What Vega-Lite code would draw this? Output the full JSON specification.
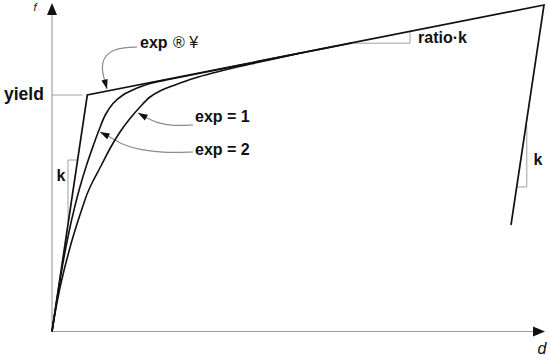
{
  "$schema": "https://vega.github.io/schema/vega-lite/v6.json",
  "width": 550,
  "height": 360,
  "autosize": {"type": "none"},
  "padding": 0,
  "background": "white",
  "config": {"view": {"stroke": null}, "text": {"font": "Liberation Sans"}},
  "datasets": {
    "axes": [
      {"d": 0, "f": 0, "d2": 0, "f2": 317},
      {"d": 0, "f": 0, "d2": 482, "f2": 0}
    ],
    "guides": [
      {"d": 0, "f": 236.5, "d2": 30, "f2": 236.5},
      {"d": 16, "f": 171.5, "d2": 25.4, "f2": 171.5},
      {"d": 16, "f": 171.5, "d2": 16, "f2": 110},
      {"d": 298, "f": 288.3, "d2": 358, "f2": 288.3},
      {"d": 358, "f": 288.3, "d2": 358, "f2": 300.1},
      {"d": 474.8, "f": 206, "d2": 474.8, "f2": 144.5},
      {"d": 464.7, "f": 144.5, "d2": 474.8, "f2": 144.5}
    ],
    "callouts": [
      {"c": "inf", "i": 0, "d": 85, "f": 284.5},
      {"c": "inf", "i": 1, "d": 72, "f": 284},
      {"c": "inf", "i": 2, "d": 61, "f": 281.5},
      {"c": "inf", "i": 3, "d": 53.5, "f": 276},
      {"c": "inf", "i": 4, "d": 50, "f": 268},
      {"c": "inf", "i": 5, "d": 50.5, "f": 259},
      {"c": "inf", "i": 6, "d": 53, "f": 249.5},
      {"c": "inf", "i": 7, "d": 55, "f": 242.5},
      {"c": "one", "i": 0, "d": 141, "f": 206.5},
      {"c": "one", "i": 1, "d": 121, "f": 205.5},
      {"c": "one", "i": 2, "d": 105, "f": 208.5},
      {"c": "one", "i": 3, "d": 95, "f": 213.5},
      {"c": "one", "i": 4, "d": 86, "f": 218.5},
      {"c": "two", "i": 0, "d": 141, "f": 179.5},
      {"c": "two", "i": 1, "d": 115, "f": 178.5},
      {"c": "two", "i": 2, "d": 88, "f": 181.5},
      {"c": "two", "i": 3, "d": 71, "f": 186.5},
      {"c": "two", "i": 4, "d": 58, "f": 194.5},
      {"c": "two", "i": 5, "d": 48, "f": 199.5}
    ],
    "curves": [
      {"curve": "exp=2", "i": 0, "d": 0, "f": 0},
      {"curve": "exp=2", "i": 1, "d": 6.4, "f": 41.5},
      {"curve": "exp=2", "i": 2, "d": 12.4, "f": 76.5},
      {"curve": "exp=2", "i": 3, "d": 19.6, "f": 111.5},
      {"curve": "exp=2", "i": 4, "d": 27.1, "f": 141.5},
      {"curve": "exp=2", "i": 5, "d": 34.6, "f": 166.5},
      {"curve": "exp=2", "i": 6, "d": 41.5, "f": 186.5},
      {"curve": "exp=2", "i": 7, "d": 47, "f": 201.5},
      {"curve": "exp=2", "i": 8, "d": 53.3, "f": 216.5},
      {"curve": "exp=2", "i": 9, "d": 61, "f": 228},
      {"curve": "exp=2", "i": 10, "d": 71, "f": 236.5},
      {"curve": "exp=2", "i": 11, "d": 84.5, "f": 243.2},
      {"curve": "exp=2", "i": 12, "d": 98, "f": 248},
      {"curve": "exp=2", "i": 13, "d": 118, "f": 252.2},
      {"curve": "exp=2", "i": 14, "d": 148, "f": 258.2},
      {"curve": "exp=2", "i": 15, "d": 198, "f": 268.3},
      {"curve": "exp=2", "i": 16, "d": 250, "f": 278.8},
      {"curve": "exp=1", "i": 0, "d": 0, "f": 0},
      {"curve": "exp=1", "i": 1, "d": 3.6, "f": 21.5},
      {"curve": "exp=1", "i": 2, "d": 7.5, "f": 41.5},
      {"curve": "exp=1", "i": 3, "d": 12.1, "f": 61.5},
      {"curve": "exp=1", "i": 4, "d": 16, "f": 76.5},
      {"curve": "exp=1", "i": 5, "d": 20.1, "f": 91.5},
      {"curve": "exp=1", "i": 6, "d": 25.3, "f": 108.5},
      {"curve": "exp=1", "i": 7, "d": 30.6, "f": 124.5},
      {"curve": "exp=1", "i": 8, "d": 35.5, "f": 138.5},
      {"curve": "exp=1", "i": 9, "d": 41, "f": 150.5},
      {"curve": "exp=1", "i": 10, "d": 49.5, "f": 166.5},
      {"curve": "exp=1", "i": 11, "d": 58, "f": 183},
      {"curve": "exp=1", "i": 12, "d": 68, "f": 199.5},
      {"curve": "exp=1", "i": 13, "d": 78, "f": 213},
      {"curve": "exp=1", "i": 14, "d": 88, "f": 224.5},
      {"curve": "exp=1", "i": 15, "d": 98, "f": 234.5},
      {"curve": "exp=1", "i": 16, "d": 108, "f": 240.5},
      {"curve": "exp=1", "i": 17, "d": 123, "f": 246.5},
      {"curve": "exp=1", "i": 18, "d": 143, "f": 253.5},
      {"curve": "exp=1", "i": 19, "d": 163, "f": 259},
      {"curve": "exp=1", "i": 20, "d": 183, "f": 264},
      {"curve": "exp=1", "i": 21, "d": 208, "f": 269.5},
      {"curve": "exp=1", "i": 22, "d": 248, "f": 278.2},
      {"curve": "exp=1", "i": 23, "d": 300, "f": 288.5}
    ],
    "bilinear": [
      {"i": 0, "d": 0, "f": 0},
      {"i": 1, "d": 35.3, "f": 236.5},
      {"i": 2, "d": 492, "f": 326.5},
      {"i": 3, "d": 459, "f": 106.5}
    ],
    "axisHeads": [
      {"d": 0, "f": 328.5, "ang": 0},
      {"d": 493, "f": 0, "ang": 90}
    ],
    "calloutHeads": [
      {"d": 55, "f": 242.5, "ang": 165},
      {"d": 86, "f": 218.5, "ang": 299},
      {"d": 48, "f": 199.5, "ang": 297}
    ],
    "boldLeft": [
      {"label": "yield", "d": -48, "f": 236.5, "fs": 17.5},
      {"label": "exp", "d": 88, "f": 288.5, "fs": 16},
      {"label": "exp = 1", "d": 143, "f": 214.5, "fs": 16},
      {"label": "exp = 2", "d": 143, "f": 181.5, "fs": 16},
      {"label": "ratio·k", "d": 366, "f": 293.5, "fs": 16}
    ],
    "boldCenter": [
      {"label": "k", "d": 9, "f": 155.5, "fs": 16},
      {"label": "k", "d": 486, "f": 171.5, "fs": 16}
    ],
    "regularLeft": [
      {"label": "® ¥", "d": 121, "f": 288.5, "fs": 16}
    ],
    "italic": [
      {"label": "f", "d": -17, "f": 323.5, "fs": 11},
      {"label": "d", "d": 490, "f": -17.5, "fs": 16}
    ]
  },
  "encoding": {
    "x": {"field": "d", "type": "quantitative", "scale": {"domain": [-52, 498], "nice": false, "zero": false}, "axis": null},
    "y": {"field": "f", "type": "quantitative", "scale": {"domain": [-28.5, 331.5], "nice": false, "zero": false}, "axis": null}
  },
  "layer": [
    {
      "data": {"name": "axes"},
      "mark": {"type": "rule", "color": "#a0a0a0", "strokeWidth": 1.2},
      "encoding": {"x2": {"field": "d2"}, "y2": {"field": "f2"}}
    },
    {
      "data": {"name": "guides"},
      "mark": {"type": "rule", "color": "#a0a0a0", "strokeWidth": 1},
      "encoding": {"x2": {"field": "d2"}, "y2": {"field": "f2"}}
    },
    {
      "data": {"name": "callouts"},
      "mark": {"type": "line", "color": "#8c8c8c", "strokeWidth": 1.2, "interpolate": "basis"},
      "encoding": {"detail": {"field": "c"}, "order": {"field": "i", "type": "quantitative"}}
    },
    {
      "data": {"name": "curves"},
      "mark": {"type": "line", "color": "#111111", "strokeWidth": 1.6, "interpolate": "catmull-rom"},
      "encoding": {"detail": {"field": "curve"}, "order": {"field": "i", "type": "quantitative"}}
    },
    {
      "data": {"name": "bilinear"},
      "mark": {"type": "line", "color": "#111111", "strokeWidth": 1.7},
      "encoding": {"order": {"field": "i", "type": "quantitative"}}
    },
    {
      "data": {"name": "axisHeads"},
      "mark": {"type": "point", "shape": "M0,0L-0.5,1.2L0.5,1.2Z", "filled": true, "color": "#111111", "opacity": 1, "size": 400},
      "encoding": {"angle": {"field": "ang", "type": "quantitative", "scale": null}}
    },
    {
      "data": {"name": "calloutHeads"},
      "mark": {"type": "point", "shape": "M0,0L-0.4,1.2L0.4,1.2Z", "filled": true, "color": "#111111", "opacity": 1, "size": 256},
      "encoding": {"angle": {"field": "ang", "type": "quantitative", "scale": null}}
    },
    {
      "data": {"name": "boldLeft"},
      "mark": {"type": "text", "align": "left", "baseline": "middle", "fontWeight": "bold", "color": "#111111"},
      "encoding": {"text": {"field": "label"}, "size": {"field": "fs", "type": "quantitative", "scale": null}}
    },
    {
      "data": {"name": "boldCenter"},
      "mark": {"type": "text", "align": "center", "baseline": "middle", "fontWeight": "bold", "color": "#111111"},
      "encoding": {"text": {"field": "label"}, "size": {"field": "fs", "type": "quantitative", "scale": null}}
    },
    {
      "data": {"name": "regularLeft"},
      "mark": {"type": "text", "align": "left", "baseline": "middle", "color": "#111111"},
      "encoding": {"text": {"field": "label"}, "size": {"field": "fs", "type": "quantitative", "scale": null}}
    },
    {
      "data": {"name": "italic"},
      "mark": {"type": "text", "align": "center", "baseline": "middle", "fontStyle": "italic", "color": "#111111"},
      "encoding": {"text": {"field": "label"}, "size": {"field": "fs", "type": "quantitative", "scale": null}}
    }
  ]
}
